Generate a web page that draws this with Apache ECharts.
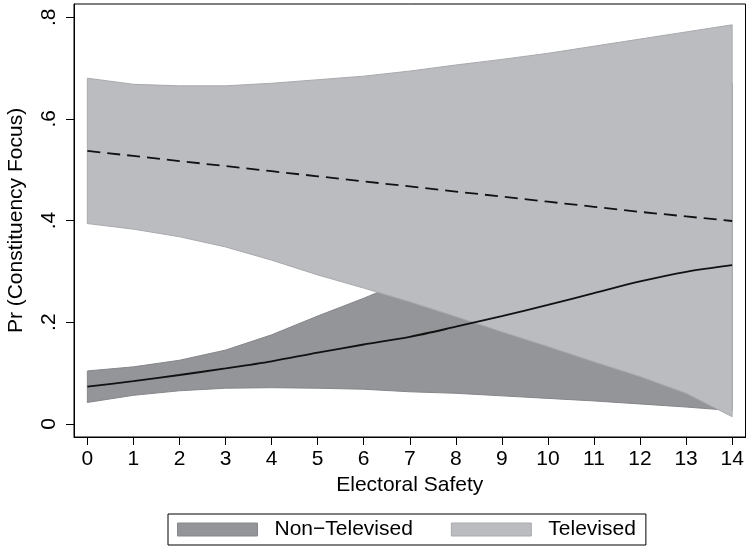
<!DOCTYPE html>
<html>
<head>
<meta charset="utf-8">
<script src="https://cdn.jsdelivr.net/npm/echarts@6/dist/echarts.min.js"></script>
<style>html,body{margin:0;padding:0;background:#fff}#c{width:747px;height:546px}</style>
</head>
<body>
<div id="c"></div>
<script>
var xs = [0,1,2,3,4,5,6,7,8,9,10,11,12,13,14];
var xTicks = [0,1,2,3,4,5,6,7,8,9,10,11,12,13,14];
var yTicks = [0,0.2,0.4,0.6,0.8];
var yTickLabels = ['0','.2','.4','.6','.8'];
var seriesNames = ['Non\u2212Televised','Televised'];

// Non-televised (dark band)
var ntMean = [0.073,0.084,0.096,0.109,0.123,0.140,0.156,0.171,0.191,0.212,0.234,0.257,0.280,0.299,0.312];
var ntLow  = [0.042,0.056,0.065,0.070,0.071,0.070,0.068,0.063,0.060,0.055,0.050,0.045,0.039,0.033,0.026];
var ntHigh = [0.104,0.112,0.125,0.145,0.175,0.212,0.247,0.285,0.330,0.380,0.430,0.490,0.550,0.610,0.670];

// Televised (light band)
var tvMean = [0.537,0.527,0.517,0.507,0.497,0.487,0.477,0.467,0.457,0.447,0.437,0.427,0.417,0.408,0.399];
var tvLow  = [0.394,0.383,0.368,0.348,0.322,0.293,0.267,0.240,0.211,0.181,0.152,0.122,0.093,0.060,0.014];
var tvHigh = [0.680,0.668,0.665,0.665,0.670,0.677,0.684,0.694,0.706,0.717,0.729,0.743,0.757,0.771,0.785];

function pairs(v){ return xs.map(function(x,i){ return [x, v[i]]; }); }
function triples(lo, hi){ return xs.map(function(x,i){ return [x, lo[i], hi[i]]; }); }

var FONT = 'Liberation Sans, Arial, Helvetica, sans-serif';
var darkFill = '#949599', lightFill = '#bbbcc0';
var darkEdge = '#86878b', lightEdge = '#a9aaae';

function makeBand(name, lo, hi, fill, edge, z){
  var d = triples(lo, hi);
  return {
    name: name, type: 'custom', z: z, silent: true,
    data: d,
    encode: {x: 0, y: [1, 2]},
    itemStyle: {color: fill},
    renderItem: function(params, api){
      if (params.dataIndex !== 0) return null;
      var upper = [], lower = [];
      for (var i = 0; i < d.length; i++) {
        upper.push(api.coord([d[i][0], d[i][2]]));
        lower.push(api.coord([d[i][0], d[i][1]]));
      }
      var poly = upper.concat(lower.reverse());
      return {
        type: 'polygon',
        shape: {points: poly},
        style: {fill: fill, stroke: edge, lineWidth: 1}
      };
    }
  };
}

var chart = echarts.init(document.getElementById('c'), null, {renderer:'canvas'});
chart.setOption({
  animation: false,
  backgroundColor: '#fff',
  textStyle: {fontFamily: FONT},
  grid: {left: 74, right: 1.5, top: 4, bottom: 109, show: true, borderColor: '#000', borderWidth: 1,
    containLabel: false, outerBoundsMode: 'none'},
  xAxis: {
    type: 'value', min: -0.29, max: 14.29,
    name: 'Electoral Safety', nameLocation: 'middle', nameGap: 33,
    nameTextStyle: {fontSize: 21, color: '#000', fontFamily: FONT},
    axisLine: {show: true, onZero: false, lineStyle: {color: '#000', width: 1}},
    axisTick: {show: true, length: 8, lineStyle: {color: '#000'}, customValues: xTicks},
    axisLabel: {fontSize: 21, color: '#000', margin: 12, fontFamily: FONT, customValues: xTicks},
    splitLine: {show: false}
  },
  yAxis: {
    type: 'value', min: -0.026, max: 0.826,
    name: 'Pr (Constituency Focus)', nameLocation: 'middle', nameGap: 47,
    nameTextStyle: {fontSize: 21, color: '#000', fontFamily: FONT},
    axisLine: {show: true, onZero: false, lineStyle: {color: '#000', width: 1}},
    axisTick: {show: true, length: 8, lineStyle: {color: '#000'}, customValues: yTicks},
    axisLabel: {fontSize: 21, color: '#000', margin: 14, rotate: 90, fontFamily: FONT, customValues: yTicks,
      formatter: function(v){ var i = yTicks.findIndex(function(t){return Math.abs(t-v)<1e-6;}); return i>=0 ? yTickLabels[i] : ''; }},
    splitLine: {show: false}
  },
  legend: {
    data: [
      {name: seriesNames[0], itemStyle: {color: darkFill, borderColor: darkEdge, borderWidth: 1}},
      {name: seriesNames[1], itemStyle: {color: lightFill, borderColor: lightEdge, borderWidth: 1}}
    ],
    left: 168, top: 514,
    orient: 'horizontal',
    padding: [5, 10, 5, 9],
    itemGap: 38, itemWidth: 80, itemHeight: 13,
    icon: 'rect',
    borderColor: '#000', borderWidth: 1,
    textStyle: {fontSize: 21, color: '#000', fontFamily: FONT, padding: [0,0,0,12]},
    selectedMode: false
  },
  series: [
    makeBand(seriesNames[0], ntLow, ntHigh, darkFill, darkEdge, 2),
    makeBand(seriesNames[1], tvLow, tvHigh, lightFill, lightEdge, 3),
    {name: 'ntMean', type: 'line', data: pairs(ntMean), showSymbol: false, symbol: 'none', smooth: 0.3,
      lineStyle: {color: '#111', width: 1.8}, z: 5, silent: true},
    {name: 'tvMean', type: 'line', data: pairs(tvMean), showSymbol: false, symbol: 'none',
      lineStyle: {color: '#111', width: 1.8, type: [13, 7]}, z: 5, silent: true}
  ]
});
</script>
</body>
</html>
